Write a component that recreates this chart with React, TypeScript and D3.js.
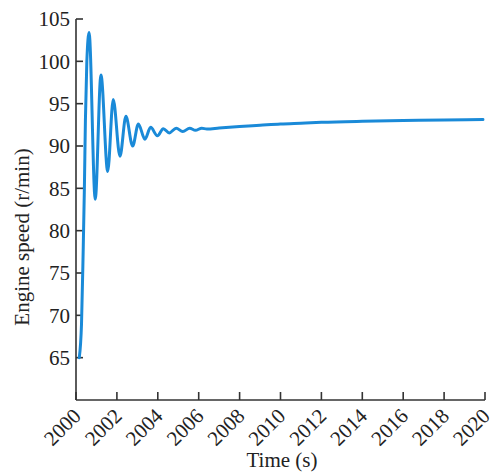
import React from "react";
import * as d3 from "d3";

// Engine speed response over time
const timeS = [
  2000.16, 2000.27, 2000.35, 2000.41, 2000.46, 2000.53, 2000.64,
  2000.94, 2001.22, 2001.55, 2001.82, 2002.15, 2002.44, 2002.77,
  2003.05, 2003.37, 2003.65, 2003.98, 2004.27, 2004.56, 2004.9,
  2005.22, 2005.56, 2005.84, 2006.15, 2006.4, 2007, 2008, 2009,
  2010, 2011, 2012, 2014, 2016, 2018, 2019.9,
];
const speed = [
  65, 69, 77.5, 85, 93, 100, 103.4,
  83.7, 98.4, 87.0, 95.5, 88.8, 93.5, 90.0,
  92.6, 90.8, 92.2, 91.2, 92.05, 91.55, 92.1,
  91.7, 92.1, 91.85, 92.1, 92.0, 92.12, 92.3, 92.45,
  92.6, 92.7, 92.8, 92.92, 93.0, 93.07, 93.12,
];
const xTicks = [2000, 2002, 2004, 2006, 2008, 2010, 2012, 2014, 2016, 2018, 2020];
const yTicks = [65, 70, 75, 80, 85, 90, 95, 100, 105];

const W = 494;
const H = 473;
const FONT = "'Liberation Serif', 'Times New Roman', serif";

export default function App() {
  const x = d3.scaleLinear().domain([2000, 2020]).range([76, 485]);
  const y = d3.scaleLinear().domain([60, 105]).range([400, 19]);
  const pts = timeS.map((t, i) => [t, speed[i]] as [number, number]);
  const line = d3
    .line<[number, number]>()
    .x((d) => x(d[0]))
    .y((d) => y(d[1]))
    .curve(d3.curveMonotoneX);

  const axisColor = "#333";
  const x0 = x(2000);
  const yBase = y(60);

  return (
    <svg
      width={W}
      height={H}
      style={{ position: "absolute", left: 0, top: 0, display: "block", background: "#fff" }}
    >
      {/* axes */}
      <line x1={x0} y1={y(105)} x2={x0} y2={yBase} stroke={axisColor} strokeWidth={1.6} />
      <line x1={x0} y1={yBase} x2={x(2020)} y2={yBase} stroke={axisColor} strokeWidth={1.6} />
      {yTicks.map((v) => (
        <g key={"y" + v}>
          <line x1={x0} x2={x0 + 7} y1={y(v)} y2={y(v)} stroke={axisColor} strokeWidth={1.6} />
          <text
            x={x0 - 6}
            y={y(v)}
            dy="0.35em"
            textAnchor="end"
            fontFamily={FONT}
            fontSize={21}
            fill="#222"
          >
            {v}
          </text>
        </g>
      ))}
      {xTicks.map((v) => (
        <g key={"x" + v}>
          <line x1={x(v)} x2={x(v)} y1={yBase} y2={yBase - 8} stroke={axisColor} strokeWidth={1.6} />
          <text
            transform={`translate(${x(v) + 1},${yBase + 12}) rotate(-45)`}
            textAnchor="end"
            dy="0.35em"
            fontFamily={FONT}
            fontSize={21}
            fill="#222"
          >
            {v}
          </text>
        </g>
      ))}
      <text
        x={282}
        y={467}
        textAnchor="middle"
        fontFamily={FONT}
        fontSize={21}
        fill="#222"
      >
        Time (s)
      </text>
      <text
        transform={`translate(29,237) rotate(-90)`}
        textAnchor="middle"
        fontFamily={FONT}
        fontSize={21}
        fill="#222"
      >
        Engine speed (r/min)
      </text>
      <path
        d={line(pts) || ""}
        fill="none"
        stroke="#1a8ad8"
        strokeWidth={3}
        strokeLinejoin="round"
        strokeLinecap="round"
      />
    </svg>
  );
}
